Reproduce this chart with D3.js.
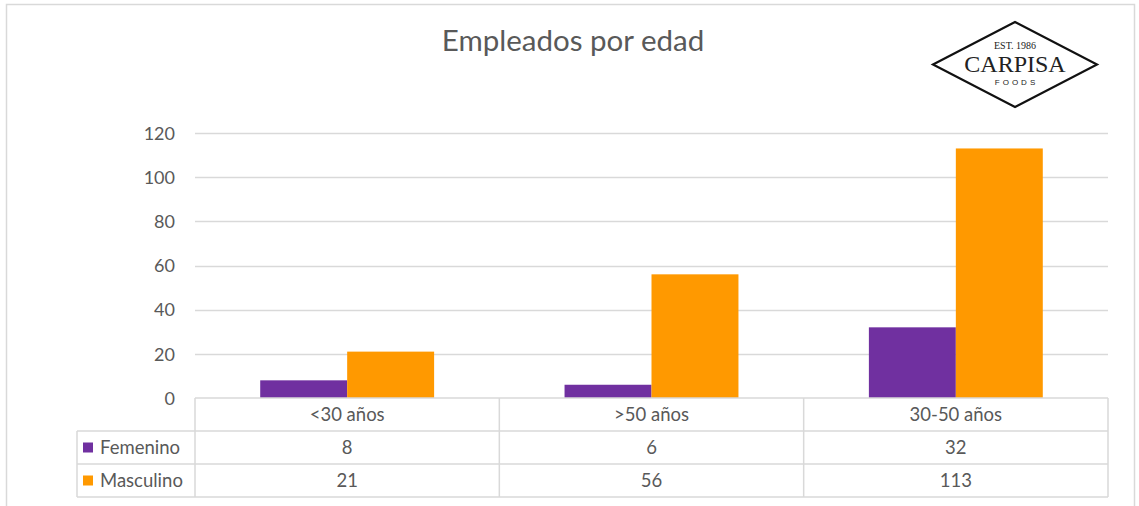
<!DOCTYPE html>
<html><head><meta charset="utf-8">
<script src="https://cdn.jsdelivr.net/npm/d3@7"></script>
<style>body{margin:0;background:#fff}svg{display:block}</style>
</head><body>
<svg id="c" width="1139" height="506"></svg>
<script>
const categories = ["<30 años", ">50 años", "30-50 años"];
const seriesNames = ["Femenino", "Masculino"];
const femenino = [8, 6, 32];
const masculino = [21, 56, 113];
const yTicks = [0, 20, 40, 60, 80, 100, 120];
const colors = ["#7030A0", "#FF9900"];
const values = [femenino, masculino];

const svg = d3.select("#c");
const font = "Lato, 'Open Sans', sans-serif";
const txt = "#595959";
const gridC = "#d9d9d9";
const fs = 18.5;

// outer chart border
svg.append("rect").attr("x",6.5).attr("y",4.5).attr("width",1128).attr("height",510)
  .attr("fill","none").attr("stroke",gridC).attr("stroke-width",1.5);

// title
svg.append("text").attr("x",573).attr("y",51).attr("text-anchor","middle")
  .attr("font-family",font).attr("font-size",29.5).attr("fill",txt).text("Empleados por edad");

const pLeft = 195, pRight = 1108, pTop = 133, pBottom = 398;
const y = d3.scaleLinear().domain([0,120]).range([pBottom, pTop]);
const x0 = d3.scaleBand().domain(categories).range([pLeft,pRight]).padding(0);
const x1 = d3.scaleBand().domain(seriesNames).range([0,x0.bandwidth()]).paddingInner(0).paddingOuter(0.75);

// gridlines
svg.append("g").selectAll("line").data(yTicks.filter(d=>d>0)).join("line")
  .attr("x1",pLeft).attr("x2",pRight).attr("y1",d=>Math.round(y(d))+0.5).attr("y2",d=>Math.round(y(d))+0.5)
  .attr("stroke",gridC).attr("stroke-width",1.5);

// y axis labels
const yAxis = d3.axisLeft(y).tickValues(yTicks).tickSize(0).tickPadding(0);
const ga = svg.append("g").attr("transform",`translate(${pLeft-20},0)`).call(yAxis);
ga.select(".domain").remove();
ga.selectAll("text").attr("font-family",font).attr("font-size",18).attr("fill",txt).attr("dy","0.35em");

// bars
const g = svg.append("g");
categories.forEach((c,i)=>{
  seriesNames.forEach((s,j)=>{
    g.append("rect").attr("x",x0(c)+x1(s)).attr("width",x1.bandwidth())
      .attr("y",y(values[j][i])).attr("height",y(0)-y(values[j][i]))
      .attr("fill",colors[j]);
  });
});

// data table
const rowH = 33;
const tLeft = 77;
const rows = [pBottom, pBottom+rowH, pBottom+2*rowH, pBottom+3*rowH];
const tg = svg.append("g").attr("stroke",gridC).attr("stroke-width",1.5).attr("fill","none");
tg.append("line").attr("x1",pLeft).attr("x2",pRight).attr("y1",rows[0]).attr("y2",rows[0]);
[1,2,3].forEach(k=>tg.append("line").attr("x1",tLeft).attr("x2",pRight).attr("y1",rows[k]).attr("y2",rows[k]));
tg.append("line").attr("x1",tLeft).attr("x2",tLeft).attr("y1",rows[1]).attr("y2",rows[3]);
const vx = categories.map(c=>x0(c)).concat([pRight]);
vx.forEach(v=>tg.append("line").attr("x1",v).attr("x2",v).attr("y1",rows[0]).attr("y2",rows[3]));

const cx = c=>x0(c)+x0.bandwidth()/2;
svg.append("g").selectAll("text").data(categories).join("text")
  .attr("x",cx).attr("y",rows[0]+rowH/2).attr("dy","0.35em").attr("text-anchor","middle")
  .attr("font-family",font).attr("font-size",fs).attr("fill",txt).text(d=>d);
values.forEach((vals,j)=>{
  svg.append("g").selectAll("text").data(vals).join("text")
    .attr("x",(d,i)=>cx(categories[i])).attr("y",rows[j+1]+rowH/2).attr("dy","0.35em").attr("text-anchor","middle")
    .attr("font-family",font).attr("font-size",fs).attr("fill",txt).text(d=>d);
  svg.append("rect").attr("x",tLeft+6).attr("y",rows[j+1]+rowH/2-5).attr("width",10).attr("height",10).attr("fill",colors[j]);
  svg.append("text").attr("x",tLeft+23).attr("y",rows[j+1]+rowH/2).attr("dy","0.35em")
    .attr("font-family",font).attr("font-size",fs).attr("fill",txt).text(seriesNames[j]);
});

// logo
const lg = svg.append("g").attr("transform","translate(1015,64.5)");
lg.append("path").attr("d","M-82,0 L0,-42.5 L82,0 L0,42.5 Z").attr("fill","#fff").attr("stroke","#111").attr("stroke-width",2.2);
lg.append("text").attr("y",-15.5).attr("text-anchor","middle").attr("font-family","'Liberation Serif', serif")
  .attr("font-size",10).attr("fill","#222").text("EST. 1986");
lg.append("text").attr("y",7.5).attr("text-anchor","middle").attr("font-family","'Liberation Serif', serif")
  .attr("font-size",24).attr("fill","#222").text("CARPISA");
lg.append("text").attr("x",1.5).attr("y",20).attr("text-anchor","middle").attr("font-family","'Liberation Sans', sans-serif")
  .attr("font-size",8).attr("letter-spacing",3).attr("fill","#222").text("FOODS");
</script>
</body></html>
